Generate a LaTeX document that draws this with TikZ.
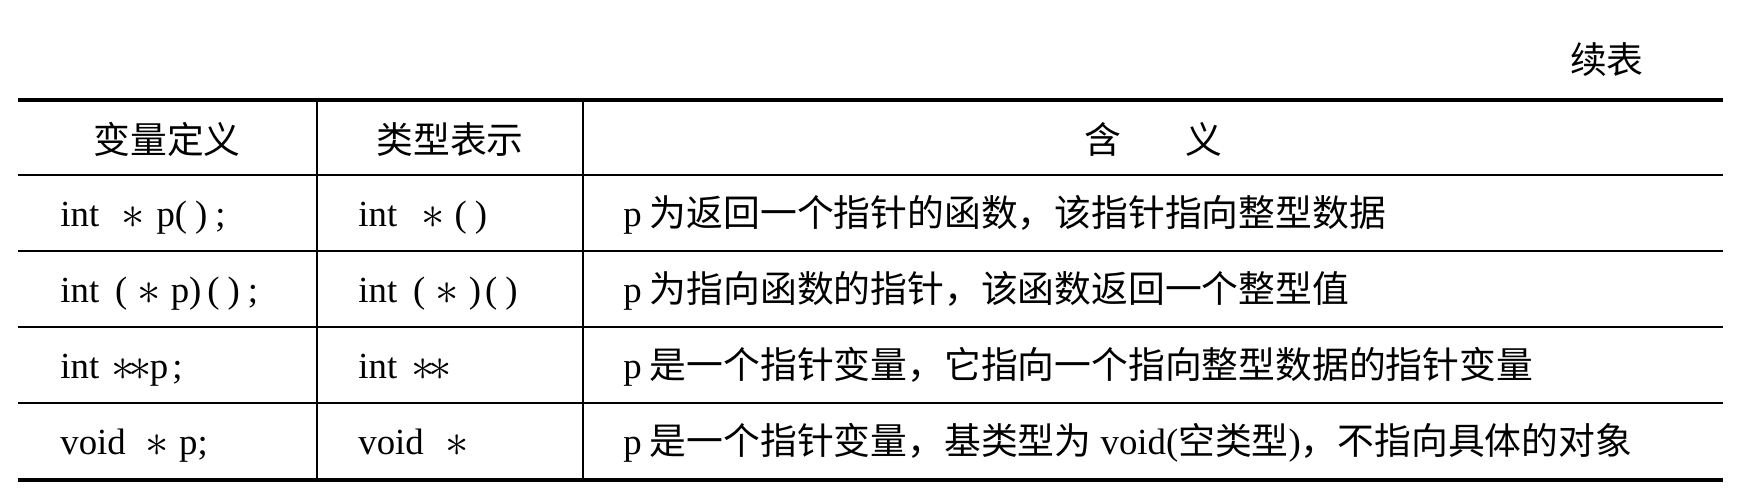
\documentclass[tikz,border=0pt]{standalone}
\usepackage{fontspec}
\setmainfont{Liberation Serif}
\newfontfamily\cjk{Noto Sans CJK SC}
\newcommand\tabfs{\fontsize{18.4pt}{22pt}\selectfont}
\newcommand\astx{\raisebox{-1pt}{\scalebox{1.35}{$\ast$}}}
\tikzset{
  thickrule/.style={line width=1.7pt},
  thinrule/.style={line width=1pt},
  colrule/.style={line width=0.85pt},
  celltext/.style={inner sep=0pt, anchor=base west, font=\tabfs},
  headtext/.style={inner sep=0pt, anchor=base, font=\tabfs\cjk},
}
\begin{document}
\begin{tikzpicture}[x=0.5pt,y=-0.5pt]
\useasboundingbox (0,0) rectangle (1748,494);
\fill[white] (0,0) rectangle (1748,494);
% caption
\node[headtext, anchor=base east] (cont) at (1644,73) {续表};
% rules
\draw[thickrule] (18,100) -- (1723,100);
\draw[thinrule] (18,175) -- (1723,175);
\draw[thinrule] (18,251) -- (1723,251);
\draw[thinrule] (18,327) -- (1723,327);
\draw[thinrule] (18,403) -- (1723,403);
\draw[thickrule] (18,480) -- (1723,480);
\draw[colrule] (317,100) -- (317,480);
\draw[colrule] (583,100) -- (583,480);
% header
\node[headtext] (h1) at (167,153) {变量定义};
\node[headtext] (h2) at (450,153) {类型表示};
\node[headtext] (h3) at (1153,153) {含\hspace{1.75em}义};
% column 1
\node[celltext] (c11) at (60,226) {int\hspace{11pt}\astx\hspace{6pt}p(\hspace{4pt})\hspace{4pt};};
\node[celltext] (c21) at (60,302) {int\hspace{8pt}(\hspace{5pt}\astx\hspace{5pt}p)\hspace{3pt}(\hspace{4pt})\hspace{4pt};};
\node[celltext] (c31) at (60,378) {int\hspace{6pt}\astx\hspace{-3pt}\astx\hspace{-1pt}p\hspace{2pt};};
\node[celltext] (c41) at (60,454) {void\hspace{10pt}\astx\hspace{5pt}p;};
% column 2
\node[celltext] (c12) at (358,226) {int\hspace{12pt}\astx\hspace{5pt}(\hspace{4pt})};
\node[celltext] (c22) at (358,302) {int\hspace{8pt}(\hspace{5pt}\astx\hspace{5pt})\hspace{2pt}(\hspace{4pt})};
\node[celltext] (c32) at (358,378) {int\hspace{7pt}\astx\hspace{-3pt}\astx};
\node[celltext] (c42) at (358,454) {void\hspace{11pt}\astx};
% column 3
\node[celltext] (c13) at (623,226) {p\hspace{4pt}{\cjk 为返回一个指针的函数，该指针指向整型数据}};
\node[celltext] (c23) at (623,302) {p\hspace{4pt}{\cjk 为指向函数的指针，该函数返回一个整型值}};
\node[celltext] (c33) at (623,378) {p\hspace{4pt}{\cjk 是一个指针变量，它指向一个指向整型数据的指针变量}};
\node[celltext] (c43) at (623,454) {p\hspace{4pt}{\cjk 是一个指针变量，基类型为} void({\cjk 空类型}){\cjk ，不指向具体的对象}};
\end{tikzpicture}
\end{document}
